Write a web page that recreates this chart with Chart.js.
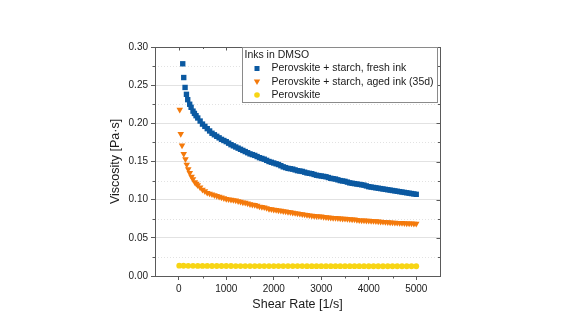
<!DOCTYPE html>
<html>
<head>
<meta charset="utf-8">
<script src="https://cdn.jsdelivr.net/npm/chart.js@4.4.1/dist/chart.umd.min.js"></script>
<style>
html,body{margin:0;padding:0;background:#fff;}
canvas{display:block;}
</style>
</head>
<body>
<canvas id="c" width="577" height="325"></canvas>
<script>
// ---- data ----
const seriesLabels = [
  "Perovskite + starch, fresh ink",
  "Perovskite + starch, aged ink (35d)",
  "Perovskite"
];
const legendTitle = "Inks in DMSO";

const freshShear = [84,105,133,162,189,230,260,300,330,364,400,450,500,550,600,650,700,750,800,850,900,950,1000,1050,1100,1150,1200,1250,1300,1350,1400,1450,1500,1550,1600,1650,1700,1750,1800,1850,1900,1950,2000,2050,2100,2150,2200,2250,2300,2350,2400,2450,2500,2550,2600,2650,2700,2750,2800,2850,2900,2950,3000,3050,3100,3150,3200,3250,3300,3350,3400,3450,3500,3550,3600,3650,3700,3750,3800,3850,3900,3950,4000,4050,4100,4150,4200,4250,4300,4350,4400,4450,4500,4550,4600,4650,4700,4750,4800,4850,4900,4950,5000];
const freshVisc  = [0.278,0.260,0.247,0.238,0.231,0.225,0.221,0.216,0.213,0.210,0.207,0.203,0.199,0.196,0.193,0.190,0.187,0.185,0.183,0.181,0.179,0.1775,0.176,0.174,0.172,0.1705,0.169,0.1675,0.166,0.1645,0.163,0.1615,0.160,0.159,0.158,0.1565,0.155,0.154,0.153,0.1515,0.150,0.149,0.148,0.147,0.146,0.1445,0.143,0.142,0.141,0.1405,0.140,0.139,0.138,0.1375,0.137,0.136,0.135,0.1345,0.134,0.133,0.132,0.1315,0.131,0.1305,0.130,0.129,0.128,0.1275,0.127,0.126,0.125,0.1245,0.124,0.123,0.122,0.1215,0.121,0.1205,0.120,0.1195,0.119,0.118,0.117,0.1165,0.116,0.1155,0.115,0.1145,0.114,0.1135,0.113,0.1125,0.112,0.1115,0.111,0.1105,0.110,0.1095,0.109,0.1085,0.108,0.1075,0.107];

const agedShear = [21,42,69,105,141,168,200,232,270,300,337,370,400,450,500,550,600,650,700,750,800,850,900,950,1000,1050,1100,1150,1200,1250,1300,1350,1400,1450,1500,1550,1600,1650,1700,1750,1800,1850,1900,1950,2000,2050,2100,2150,2200,2250,2300,2350,2400,2450,2500,2550,2600,2650,2700,2750,2800,2850,2900,2950,3000,3050,3100,3150,3200,3250,3300,3350,3400,3450,3500,3550,3600,3650,3700,3750,3800,3850,3900,3950,4000,4050,4100,4150,4200,4250,4300,4350,4400,4450,4500,4550,4600,4650,4700,4750,4800,4850,4900,4950,5000];
const agedVisc  = [0.218,0.186,0.171,0.160,0.153,0.146,0.140,0.135,0.130,0.127,0.123,0.121,0.119,0.116,0.113,0.111,0.109,0.108,0.107,0.106,0.105,0.104,0.103,0.102,0.101,0.1005,0.100,0.0995,0.099,0.098,0.0975,0.0965,0.096,0.095,0.094,0.0935,0.093,0.092,0.091,0.0905,0.090,0.089,0.088,0.0875,0.087,0.0865,0.086,0.0855,0.085,0.0845,0.084,0.0835,0.083,0.0825,0.082,0.0815,0.081,0.0805,0.080,0.0795,0.079,0.0787,0.0785,0.0782,0.078,0.0775,0.077,0.0767,0.0765,0.0762,0.076,0.0757,0.0755,0.0752,0.075,0.0747,0.0745,0.0742,0.074,0.0735,0.073,0.0728,0.0727,0.0725,0.0724,0.0722,0.072,0.0717,0.0715,0.0712,0.071,0.0707,0.0705,0.0702,0.070,0.0698,0.0697,0.0695,0.0694,0.0692,0.069,0.0689,0.0688,0.0686,0.0685];

const pureShear = [10,100,200,300,400,500,600,700,800,900,1000,1100,1200,1300,1400,1500,1600,1700,1800,1900,2000,2100,2200,2300,2400,2500,2600,2700,2800,2900,3000,3100,3200,3300,3400,3500,3600,3700,3800,3900,4000,4100,4200,4300,4400,4500,4600,4700,4800,4900,5000];
const pureVisc  = [0.0135,0.0134,0.0133,0.0133,0.0132,0.0132,0.0132,0.0131,0.0131,0.0131,0.0131,0.0131,0.0130,0.0130,0.0130,0.0130,0.0130,0.0130,0.0130,0.0130,0.0130,0.0130,0.0130,0.0130,0.0130,0.0130,0.0130,0.0129,0.0129,0.0129,0.0129,0.0129,0.0129,0.0129,0.0129,0.0129,0.0129,0.0129,0.0129,0.0129,0.0128,0.0128,0.0128,0.0128,0.0128,0.0128,0.0128,0.0128,0.0128,0.0128,0.0128];

const xTicks = [0,1000,2000,3000,4000,5000];
const xMinorTicks = [500,1500,2500,3500,4500];
const yTicks = [0.00,0.05,0.10,0.15,0.20,0.25,0.30];
const yMinorTicks = [0.025,0.075,0.125,0.175,0.225,0.275];
const xTitle = "Shear Rate [1/s]";
const yTitle = "Viscosity [Pa\u00b7s]";

// ---- styling ----
const COLORS = ["#0b59a1", "#f47a0c", "#f7d514"];
const FONT = "'Liberation Sans', Arial, sans-serif";
const FRAME = "#5a5a5a";

function pts(xs, ys){ return xs.map((x,i)=>({x:x, y:ys[i]})); }

const datasets = [
  {label: seriesLabels[0], data: pts(freshShear, freshVisc), pointStyle:'rect', pointRadius:3.8, backgroundColor:COLORS[0], borderColor:COLORS[0], borderWidth:0, showLine:false},
  {label: seriesLabels[1], data: pts(agedShear, agedVisc), pointStyle:'triangle', rotation:180, pointRadius:3.8, backgroundColor:COLORS[1], borderColor:COLORS[1], borderWidth:0, showLine:false},
  {label: seriesLabels[2], data: pts(pureShear, pureVisc), pointStyle:'circle', pointRadius:2.9, backgroundColor:COLORS[2], borderColor:COLORS[2], borderWidth:0, showLine:false}
];

const decor = {
  id: 'decor',
  beforeDatasetsDraw(chart){
    const {ctx, chartArea:a, scales:{x, y}} = chart;
    ctx.save();
    ctx.strokeStyle = '#e2e2e2';
    ctx.lineWidth = 1;
    ctx.setLineDash([1,2]);
    yMinorTicks.forEach(v=>{
      const py = Math.round(y.getPixelForValue(v)) + 0.5;
      ctx.beginPath(); ctx.moveTo(a.left, py); ctx.lineTo(a.right, py); ctx.stroke();
    });
    ctx.restore();
  },
  afterDraw(chart){
    const {ctx, chartArea:a, scales:{x, y}} = chart;
    ctx.save();
    ctx.strokeStyle = FRAME;
    ctx.lineWidth = 1;
    ctx.strokeRect(Math.round(a.left)+0.5, Math.round(a.top)+0.5, Math.round(a.right-a.left), Math.round(a.bottom-a.top));
    ctx.beginPath();
    xMinorTicks.forEach(v=>{
      const px = Math.round(x.getPixelForValue(v))+0.5;
      ctx.moveTo(px, a.bottom); ctx.lineTo(px, a.bottom+2.5);
      ctx.moveTo(px, a.top); ctx.lineTo(px, a.top+2);
    });
    xTicks.forEach(v=>{
      const px = Math.round(x.getPixelForValue(v))+0.5;
      ctx.moveTo(px, a.top); ctx.lineTo(px, a.top+3.5);
    });
    yMinorTicks.forEach(v=>{
      const py = Math.round(y.getPixelForValue(v))+0.5;
      ctx.moveTo(a.left, py); ctx.lineTo(a.left-2.5, py);
      ctx.moveTo(a.right, py); ctx.lineTo(a.right-2, py);
    });
    yTicks.forEach(v=>{
      const py = Math.round(y.getPixelForValue(v))+0.5;
      ctx.moveTo(a.right, py); ctx.lineTo(a.right-3.5, py);
    });
    ctx.stroke();

    // legend box
    const bx = 242.5, by = Math.round(a.top)+0.5, bw = 195, bh = 55;
    ctx.fillStyle = '#ffffff';
    ctx.fillRect(bx, by, bw, bh);
    ctx.strokeStyle = '#8a8a8a';
    ctx.strokeRect(bx, by, bw, bh);
    // fit legend font so the longest entry spans like the reference (~163px)
    ctx.font = '10px ' + FONT;
    const w10 = Math.max(...chart.data.datasets.map(d=>ctx.measureText(d.label).width));
    const fs = Math.min(12, 10 * 162 / w10);
    ctx.font = fs.toFixed(2) + 'px ' + FONT;
    ctx.fillStyle = '#1a1a1a';
    ctx.textBaseline = 'middle';
    ctx.textAlign = 'left';
    ctx.fillText(legendTitle, 244.5, 55.5);
    const rows = [68.5, 82, 95];
    chart.data.datasets.forEach((ds, i)=>{
      const my = rows[i], mx = 257;
      ctx.fillStyle = ds.backgroundColor;
      ctx.beginPath();
      if (ds.pointStyle === 'rect') {
        ctx.rect(mx-2.5, my-2.5, 5, 5);
      } else if (ds.pointStyle === 'triangle') {
        ctx.moveTo(mx-3.2, my-2.5); ctx.lineTo(mx+3.2, my-2.5); ctx.lineTo(mx, my+3);
        ctx.closePath();
      } else {
        ctx.arc(mx, my, 2.8, 0, Math.PI*2);
      }
      ctx.fill();
      ctx.fillStyle = '#1a1a1a';
      ctx.fillText(ds.label, 271.5, my);
    });
    ctx.restore();
  }
};

new Chart(document.getElementById('c'), {
  type: 'scatter',
  data: { datasets },
  options: {
    responsive: false,
    animation: false,
    devicePixelRatio: 1,
    layout: { padding: { left: 104, right: 137, top: 47, bottom: 12 } },
    plugins: { legend: { display: false }, tooltip: { enabled: false } },
    scales: {
      x: {
        type: 'linear', min: -500, max: 5500,
        afterFit(s){ s.height = 37; },
        afterBuildTicks(s){ s.ticks = xTicks.map(v=>({value:v})); },
        ticks: { color:'#1a1a1a', font:{family:FONT, size:10}, padding:3, maxRotation:0,
                 callback: v => String(v) },
        grid: { drawOnChartArea:false, drawTicks:true, tickLength:4, tickColor:FRAME },
        border: { display:true, color:FRAME },
        title: { display:true, text:xTitle, color:'#1a1a1a', font:{family:FONT, size:12.5}, padding:{top:2,bottom:1} }
      },
      y: {
        type: 'linear', min: 0, max: 0.30,
        afterFit(s){ s.width = 51; },
        afterBuildTicks(s){ s.ticks = yTicks.map(v=>({value:v})); },
        ticks: { color:'#1a1a1a', font:{family:FONT, size:10}, padding:3,
                 callback: v => Number(v).toFixed(2) },
        grid: { color:'#e2e2e2', drawTicks:true, tickLength:4, tickColor:FRAME },
        border: { display:true, color:FRAME },
        title: { display:true, text:yTitle, color:'#1a1a1a', font:{family:FONT, size:12.5}, padding:{top:4,bottom:2} }
      }
    }
  },
  plugins: [decor]
});
</script>
</body>
</html>
